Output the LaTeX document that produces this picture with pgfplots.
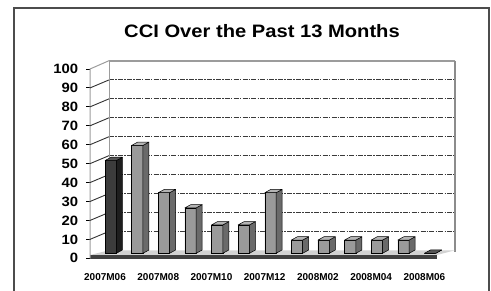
\documentclass[border=0pt]{standalone}
\usepackage{pgfplots}
\pgfplotsset{compat=1.18}
\usepackage{pgfplotstable}
\usepackage{fontspec}
\setmainfont{Liberation Sans}

\definecolor{darkfront}{HTML}{3C3C3C}
\definecolor{darkside}{HTML}{1E1E1E}
\definecolor{darktop}{HTML}{555555}
\definecolor{litefront}{HTML}{9A9A9A}
\definecolor{liteside}{HTML}{6A6A6A}
\definecolor{litetop}{HTML}{B4B4B4}
\definecolor{wallgray}{HTML}{9C9C9C}
\definecolor{gridgray}{HTML}{3A3A3A}

\pgfplotstableread{
x y
0 49
12 0
}\darkbars
\pgfplotstableread{
x y
1 57
2 32
3 24
4 15
5 15
6 32
7 7
8 7
9 7
10 7
11 7
}\litebars

\pgfdeclareplotmark{nothing}{}

\pgfplotsset{
  bar3d/.style n args={2}{
    scatter, only marks, mark=nothing,
    visualization depends on={y \as \hh},
    scatter/@pre marker code/.code={%
      \pgfmathsetmacro{\barh}{\hh*1.893}%
      \filldraw[fill=#1, draw=black, line width=0.5bp, line join=round]
        (5.65bp,0bp) -- (11.65bp,3.3bp) -- (11.65bp,{(3.3-\barh)*1bp}) -- (5.65bp,{-\barh*1bp}) -- cycle;
      \filldraw[fill=#2, draw=black, line width=0.5bp, line join=round]
        (-5.65bp,0bp) -- (5.65bp,0bp) -- (11.65bp,3.3bp) -- (0.35bp,3.3bp) -- cycle;
    },
    scatter/@post marker code/.code={},
  },
}

\begin{document}
\begin{tikzpicture}
\useasboundingbox (0,0) rectangle (491bp,291bp);
% outer frame
\draw[black!70, line width=1.2bp] (14bp,-2bp) -- (14bp,283bp) -- (489bp,283bp) -- (489bp,-2bp);
% title
\node[font=\fontsize{18bp}{20bp}\selectfont\bfseries, xscale=1.12, anchor=base] at (262bp,253.3bp) {CCI Over the Past 13 Months};

% back wall with gridlines
\begin{axis}[at={(109bp,40.7bp)}, anchor=south west, scale only axis,
  width=346bp, height=189.6bp,
  xmin=0, xmax=1, ymin=0, ymax=100, clip=false,
  axis line style={draw=none}, tick style={draw=none},
  xtick=\empty, ytick={10,20,...,90}, yticklabels={},
  ymajorgrids,
  grid style={gridgray, line width=0.8bp, dash pattern=on 5bp off 1.2bp on 1.5bp off 1.2bp},
]
\draw[wallgray, line width=1bp] (rel axis cs:0,0) -- (rel axis cs:0,1);
\draw[wallgray, line width=2bp] (rel axis cs:0,1) -- (rel axis cs:1,1);
\draw[black!45, line width=2.8bp] (rel axis cs:1,1) -- (rel axis cs:1,-0.01);
\end{axis}

% floor
\fill[gray!35] (90bp,36bp) -- (437bp,36bp) -- (455bp,40.7bp) -- (109bp,40.7bp) -- cycle;
\fill[black!75] (90bp,31.5bp) rectangle (437bp,36bp);

% front axis: ticks, labels, left wall
\begin{axis}[at={(90bp,32.7bp)}, anchor=south west, scale only axis,
  width=346bp, height=189.3bp,
  xmin=-0.5, xmax=12.5, ymin=0, ymax=100, clip=false,
  axis line style={draw=none},
  ytick={0,10,...,100}, xtick={0,2,...,12},
  xticklabels={2007M06,2007M08,2007M10,2007M12,2008M02,2008M04,2008M06},
  tick align=outside, tick pos=left, major tick length=4bp,
  ytick style={black, line width=0.9bp},
  xtick style={draw=none},
  /pgf/number format/assume math mode=true,
  yticklabel style={font=\fontsize{13.5bp}{15bp}\selectfont\bfseries, xscale=1.1, anchor=east, inner sep=0pt, xshift=-7bp},
  xticklabel style={font=\fontsize{10bp}{12bp}\selectfont\bfseries, anchor=base, inner sep=0pt, yshift=-18.4bp, xshift=1.7bp},
]
\draw[wallgray, line width=1bp] (axis cs:-0.5,0) -- (axis cs:-0.5,100) -- ++(19bp,8.3bp);
\pgfplotsinvokeforeach{10,20,...,90}{\draw[black!80, line width=0.9bp] (axis cs:-0.5,#1) -- ++(19bp,8bp);}
\end{axis}

% bars
\begin{axis}[at={(97.4bp,37.7bp)}, anchor=south west, scale only axis,
  width=346bp, height=189.3bp,
  xmin=-0.5, xmax=12.5, ymin=0, ymax=100, clip=false, hide axis,
]
\addplot[ybar, bar width=11.3bp, fill=litefront, draw=black, line width=0.5bp] table[x=x,y=y]{\litebars};
\addplot[bar3d={liteside}{litetop}] table[x=x,y=y]{\litebars};
\addplot[ybar, bar width=11.3bp, fill=darkfront, draw=black, line width=0.5bp] table[x=x,y=y]{\darkbars};
\addplot[bar3d={darkside}{darktop}] table[x=x,y=y]{\darkbars};
\end{axis}
\end{tikzpicture}
\end{document}
